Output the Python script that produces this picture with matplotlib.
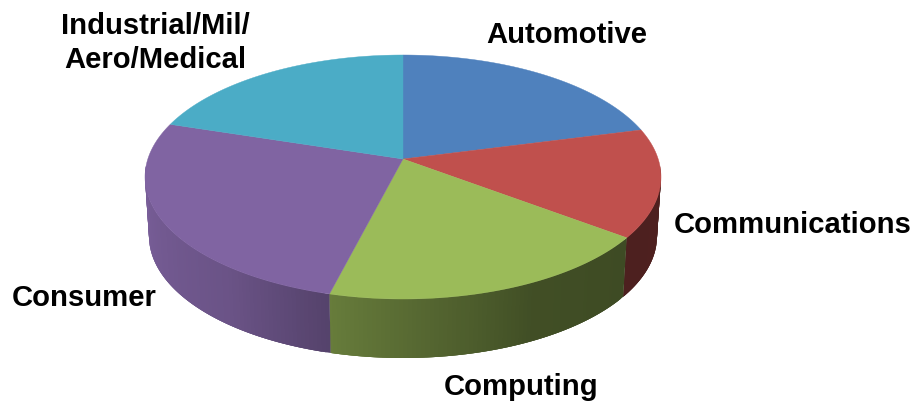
import numpy as np
import matplotlib
matplotlib.use("Agg")
import matplotlib.pyplot as plt

plt.rcParams['font.family'] = ['Liberation Sans', 'DejaVu Sans']

segments = ["Automotive", "Communications", "Computing", "Consumer", "Industrial/Mil/\nAero/Medical"]
shares = [18.7, 14.6, 21.3, 27.5, 17.9]
colors = ["#4f81bd", "#c0504d", "#9bbb59", "#8064a2", "#4bacc6"]

label_x = [567, 793, 521, 84, 155]
label_y = [35, 225, 387, 298, 43]

# shading of the rim, by angle clockwise from the top of the pie
rim_angle = [85, 120, 150, 196, 222, 275]
rim_shade = [0.41, 0.40, 0.42, 0.66, 0.83, 0.95]

# the picture is a flat ellipse, the apex sits above its middle (perspective)
cx, cy, rx, ry = 403, 178, 258, 122
apex_y = 160
base_y, base_rx = 237, 254


def rim_point(t, x_r, y_c):
    return cx + x_r * np.sin(t), y_c - ry * np.cos(t)


fig = plt.figure(figsize=(9.16, 4.02), dpi=100)
ax = fig.add_axes([0, 0, 1, 1])
ax.set_xlim(0, 916)
ax.set_ylim(402, 0)
ax.axis("off")

edges = np.cumsum([0] + shares) / sum(shares) * 360

# rim first, as overlapping strips so no seams show between them
for i, col in enumerate(colors):
    start = max(edges[i], 85)
    stop = min(edges[i + 1], 275)
    if stop <= start:
        continue
    steps = np.arange(start, stop, 1.0)
    base_col = np.array(matplotlib.colors.to_rgb(col))
    for a in steps:
        ts = np.radians(np.linspace(a, stop if a + 3 > stop else a + 3, 5))
        x1, y1 = rim_point(ts, rx, cy)
        x2, y2 = rim_point(ts, base_rx, base_y)
        shade = np.interp(a + 0.5, rim_angle, rim_shade)
        ax.fill(np.r_[x1, x2[::-1]], np.r_[y1, y2[::-1]], color=base_col * shade, lw=0)

# top face
for i, col in enumerate(colors):
    ts = np.radians(np.linspace(edges[i], edges[i + 1], 120))
    x, y = rim_point(ts, rx, cy)
    ax.fill(np.r_[cx, x], np.r_[apex_y, y], color=col, lw=0.3)

for name, x, y in zip(segments, label_x, label_y):
    ax.text(x, y, name, ha="center", va="center", fontsize=21.1,
            fontweight="bold", color="black", linespacing=1.27)

fig.savefig("out.png", dpi=100)
